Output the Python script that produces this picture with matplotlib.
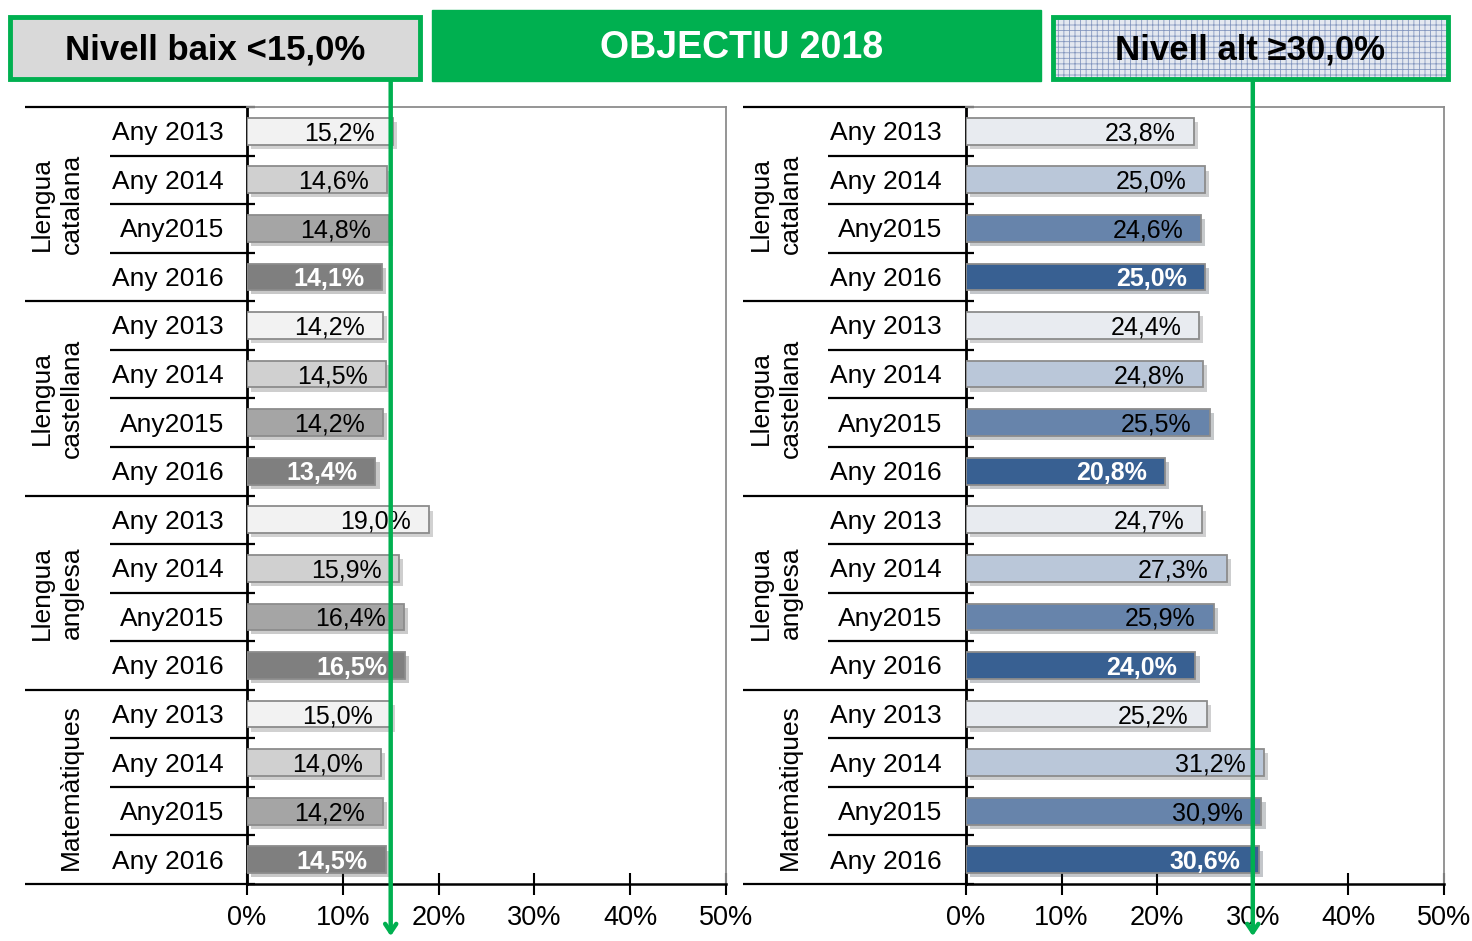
import matplotlib
matplotlib.use("Agg")
import matplotlib.pyplot as plt
import matplotlib.patches as mpatches
import matplotlib.patheffects as pe
import matplotlib.transforms as mtransforms

plt.rcParams['font.family'] = ['Liberation Sans', 'DejaVu Sans']
plt.rcParams['hatch.linewidth'] = 0.6

# Dades
groups = ["Llengua\ncatalana", "Llengua\ncastellana", "Llengua\nanglesa", "Matemàtiques"]
years = ["Any 2013", "Any 2014", "Any2015", "Any 2016"]
baix = [
    [15.2, 14.6, 14.8, 14.1],
    [14.2, 14.5, 14.2, 13.4],
    [19.0, 15.9, 16.4, 16.5],
    [15.0, 14.0, 14.2, 14.5],
]
alt = [
    [23.8, 25.0, 24.6, 25.0],
    [24.4, 24.8, 25.5, 20.8],
    [24.7, 27.3, 25.9, 24.0],
    [25.2, 31.2, 30.9, 30.6],
]
xticks = [0, 10, 20, 30, 40, 50]
obj_baix = 15
obj_alt = 30

gray_cols = ['#f2f2f2', '#d0d0d0', '#a5a5a5', '#7f7f7f']
blue_cols = ['#e8ebf0', '#bac7d9', '#6784ab', '#386092']
GREEN = '#00b050'

W, H = 1472, 941
fig = plt.figure(figsize=(W / 100, H / 100), dpi=100)
fig.patch.set_facecolor('white')


def fx(px):
    return px / W


def fy(py):
    return 1 - py / H


def panel(x0, x1, values, colors, lab_x, grp_line_x, yr_line_x, grp_x):
    ax = fig.add_axes([fx(x0), fy(884), fx(x1) - fx(x0), (884 - 107) / H])
    ax.set_facecolor('none')
    blend = mtransforms.blended_transform_factory(fig.transFigure, ax.transData)
    row = 0
    for g, grp in enumerate(groups):
        for k, yr in enumerate(years):
            v = values[g][k]
            yc = row + 0.5
            ax.barh(yc, v, height=0.55, color=colors[k], edgecolor='#8c8c8c', lw=1.3,
                    path_effects=[pe.SimplePatchShadow(offset=(3, -3), alpha=0.25),
                                  pe.Normal()], zorder=3)
            last = (k == 3)
            ax.annotate(f"{v:.1f}%".replace('.', ','), xy=(v, yc), xytext=(-13, -1.5),
                        textcoords='offset points', ha='right', va='center',
                        fontsize=18, color='white' if last else 'black',
                        fontweight='bold' if last else 'normal', zorder=4)
            ax.text(lab_x, yc + 0.04, yr, transform=blend, ha='right', va='center', fontsize=19)
            row += 1
        gx = grp_x if '\n' in grp else grp_x + fx(14)
        ax.text(gx, g * 4 + 2, grp, transform=blend, rotation=90, ha='center',
                va='center', fontsize=19, linespacing=1.3, multialignment='center')
    # separadors
    for r in range(17):
        start = grp_line_x if r % 4 == 0 else yr_line_x
        ax.plot([start, fx(x0 + 8)], [r, r], transform=blend, color='black', lw=1.6,
                clip_on=False, solid_capstyle='butt')
    ax.set_xlim(0, 50)
    ax.set_ylim(16, 0)
    ax.set_xticks(xticks)
    ax.set_xticklabels([f"{t}%" for t in xticks], fontsize=19.5)
    ax.tick_params(axis='x', direction='inout', length=16, width=1.5, pad=7)
    ax.set_yticks([])
    for s in ['top', 'right']:
        ax.spines[s].set_color('#8c8c8c')
        ax.spines[s].set_linewidth(1.3)
    ax.spines['left'].set_linewidth(2)
    ax.spines['bottom'].set_linewidth(1.8)
    return ax


panel(247, 726, baix, gray_cols, fx(224), fx(25), fx(110), fx(57))
panel(966, 1444, alt, blue_cols, fx(942), fx(743), fx(828), fx(776))


# caixes de capçalera
def box(x0, y0, x1, y1, **kw):
    r = mpatches.Rectangle((fx(x0), fy(y1)), fx(x1) - fx(x0), fy(y0) - fy(y1),
                           transform=fig.transFigure, **kw)
    fig.add_artist(r)


box(10, 17, 420, 79, facecolor='#d9d9d9', edgecolor=GREEN, lw=3.5, zorder=5)
fig.text(fx(215), fy(50), "Nivell baix <15,0%", ha='center', va='center',
         fontsize=25, fontweight='bold', zorder=6)

box(432, 10, 1041, 81, facecolor=GREEN, edgecolor=GREEN, lw=1, zorder=5)
fig.text(fx(742), fy(48), "OBJECTIU 2018", ha='center', va='center',
         fontsize=27, fontweight='bold', color='white', zorder=6)

box(1053, 17, 1448, 79, facecolor='#e4e8f0', edgecolor='#8597bf', hatch='+++', lw=0, zorder=5)
box(1053, 17, 1448, 79, facecolor='none', edgecolor=GREEN, lw=3.5, zorder=5.5)
fig.text(fx(1250), fy(50), "Nivell alt ≥30,0%", ha='center', va='center',
         fontsize=25, fontweight='bold', zorder=6)

# línies d'objectiu
for px in [247 + obj_baix / 50 * 479, 966 + obj_alt / 50 * 478]:
    arr = mpatches.FancyArrowPatch((fx(px), fy(79)), (fx(px), fy(939)),
                                   transform=fig.transFigure, arrowstyle='->,head_length=6,head_width=4',
                                   color=GREEN, lw=3.2, zorder=8)
    fig.add_artist(arr)

fig.savefig("out.png", dpi=100)
